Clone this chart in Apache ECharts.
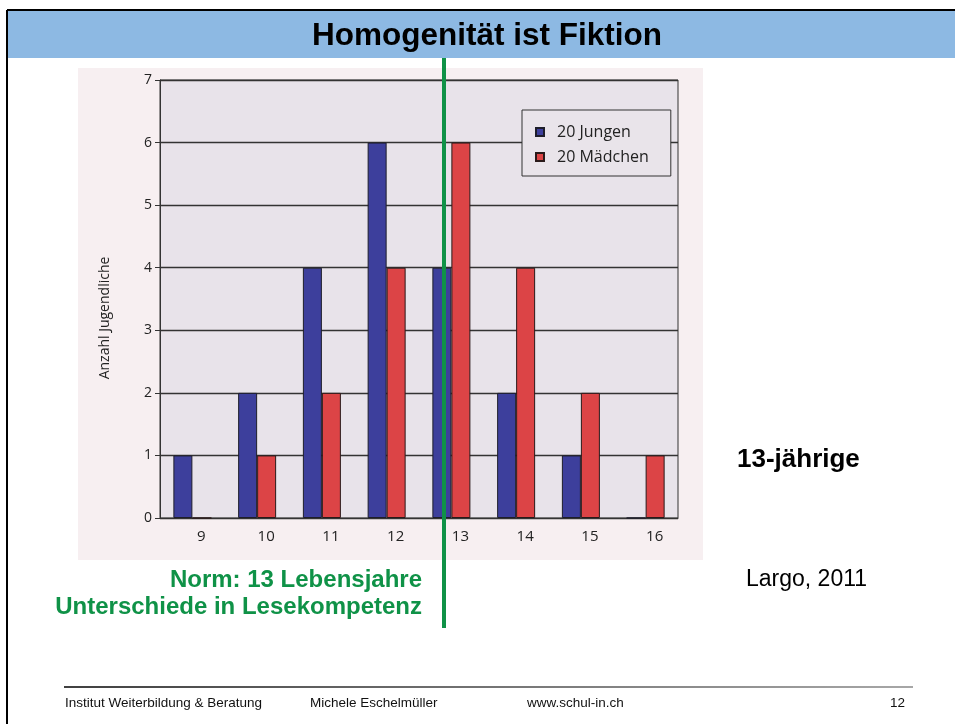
<!DOCTYPE html>
<html>
<head>
<meta charset="utf-8">
<title>Homogenität ist Fiktion</title>
<script src="https://cdn.jsdelivr.net/npm/echarts@6/dist/echarts.min.js"></script>
<style>
  html, body { margin: 0; padding: 0; background: #fff; }
  #main { width: 955px; height: 724px; }
</style>
</head>
<body>
<div id="main"></div>
<script>
// Alter (Jahre) der 13-jährigen nach Lesekompetenz
var ages = ['9', '10', '11', '12', '13', '14', '15', '16']
var jungen = [1, 2, 4, 6, 4, 2, 1, 0]
var maedchen = [0, 1, 2, 4, 6, 4, 2, 1]
var seriesNames = ['20 Jungen', '20 Mädchen']

var BLUE = '#3d3f9c'
var RED = '#dc4446'
var GREEN = '#0f9247'
var INK = '#222'
var CHART_FONT = 'Open Sans'

var chart = echarts.init(document.getElementById('main'))

chart.setOption({
  animation: false,
  backgroundColor: '#ffffff',
  textStyle: { fontFamily: CHART_FONT },
  grid: {
    left: 160,
    right: 277,
    top: 80,
    bottom: 206,
    show: true,
    backgroundColor: '#e8e3ea',
    borderColor: '#333',
    borderWidth: 1
  },
  legend: {
    orient: 'vertical',
    left: 522,
    top: 110,
    padding: [14, 22, 11, 13],
    itemWidth: 8,
    itemHeight: 8,
    itemGap: 9,
    icon: 'rect',
    backgroundColor: '#e9e4ea',
    borderColor: '#333',
    borderWidth: 1,
    textStyle: {
      fontFamily: CHART_FONT,
      fontSize: 16,
      color: INK,
      lineHeight: 16,
      padding: [0, 0, 0, 8]
    },
    data: seriesNames
  },
  xAxis: {
    type: 'category',
    data: ages,
    axisLine: { lineStyle: { color: '#333', width: 1 } },
    axisTick: { length: 4, lineStyle: { color: '#333' } },
    axisLabel: {
      color: INK,
      fontSize: 15,
      margin: 11,
      padding: [0, 0, 0, 18]
    }
  },
  yAxis: {
    type: 'value',
    min: 0,
    max: 7,
    interval: 1,
    name: 'Anzahl Jugendliche',
    nameLocation: 'middle',
    nameGap: 48,
    nameRotate: 90,
    nameTextStyle: {
      color: INK,
      fontSize: 14,
      padding: [0, 38, 0, 0]
    },
    axisLine: { show: true, lineStyle: { color: '#333', width: 1 } },
    axisTick: { show: true, length: 5, lineStyle: { color: '#333' } },
    axisLabel: { color: INK, fontSize: 14, margin: 8 },
    splitLine: { lineStyle: { color: '#333', width: 1.4 } }
  },
  series: [
    {
      name: seriesNames[0],
      type: 'bar',
      data: jungen,
      barWidth: 19,
      barGap: '0%',
      itemStyle: { color: BLUE, borderColor: '#1e1e2a', borderWidth: 1 }
    },
    {
      name: seriesNames[1],
      type: 'bar',
      data: maedchen,
      barWidth: 19,
      itemStyle: { color: RED, borderColor: '#2a1a1a', borderWidth: 1 }
    }
  ],
  graphic: [
    // gescannte Abbildung (Hintergrund)
    {
      type: 'rect',
      z: -100,
      shape: { x: 78, y: 68, width: 625, height: 492 },
      style: { fill: '#f7eff1' }
    },
    // Kopfzeile
    {
      type: 'rect',
      shape: { x: 8, y: 10, width: 947, height: 48 },
      style: { fill: '#8db9e3' }
    },
    {
      type: 'line',
      shape: { x1: 7, y1: 10, x2: 955, y2: 10 },
      style: { stroke: '#000', lineWidth: 2 }
    },
    {
      type: 'line',
      shape: { x1: 7, y1: 10, x2: 7, y2: 724 },
      style: { stroke: '#000', lineWidth: 2 }
    },
    {
      type: 'text',
      style: {
        x: 487, y: 36,
        text: 'Homogenität ist Fiktion',
        font: 'bold 31.5px "Liberation Sans", Arial, sans-serif',
        fill: '#000',
        align: 'center',
        verticalAlign: 'middle'
      }
    },
    // Norm-Linie bei 13 Jahren
    {
      type: 'line',
      z: 100,
      shape: { x1: 444, y1: 58, x2: 444, y2: 628 },
      style: { stroke: GREEN, lineWidth: 4 }
    },
    {
      type: 'text',
      style: {
        x: 422, y: 580,
        text: 'Norm: 13 Lebensjahre',
        font: 'bold 24px "Liberation Sans", Arial, sans-serif',
        fill: GREEN,
        align: 'right',
        verticalAlign: 'middle'
      }
    },
    {
      type: 'text',
      style: {
        x: 422, y: 607,
        text: 'Unterschiede in Lesekompetenz',
        font: 'bold 24px "Liberation Sans", Arial, sans-serif',
        fill: GREEN,
        align: 'right',
        verticalAlign: 'middle'
      }
    },
    {
      type: 'text',
      style: {
        x: 737, y: 460,
        text: '13-jährige',
        font: 'bold 26px "Liberation Sans", Arial, sans-serif',
        fill: '#000',
        align: 'left',
        verticalAlign: 'middle'
      }
    },
    {
      type: 'text',
      style: {
        x: 746, y: 580,
        text: 'Largo, 2011',
        font: '23px "Liberation Sans", Arial, sans-serif',
        fill: '#000',
        align: 'left',
        verticalAlign: 'middle'
      }
    },
    // Fusszeile
    {
      type: 'line',
      shape: { x1: 64, y1: 687, x2: 913, y2: 687 },
      style: {
        lineWidth: 1.5,
        stroke: new echarts.graphic.LinearGradient(0, 0, 1, 0, [
          { offset: 0, color: '#000' },
          { offset: 1, color: '#8a8a8a' }
        ])
      }
    },
    {
      type: 'text',
      style: {
        x: 65, y: 703,
        text: 'Institut Weiterbildung & Beratung',
        font: '13.5px "Liberation Sans", Arial, sans-serif',
        fill: '#111',
        verticalAlign: 'middle'
      }
    },
    {
      type: 'text',
      style: {
        x: 310, y: 703,
        text: 'Michele Eschelmüller',
        font: '13.5px "Liberation Sans", Arial, sans-serif',
        fill: '#111',
        verticalAlign: 'middle'
      }
    },
    {
      type: 'text',
      style: {
        x: 527, y: 703,
        text: 'www.schul-in.ch',
        font: '13.5px "Liberation Sans", Arial, sans-serif',
        fill: '#111',
        verticalAlign: 'middle'
      }
    },
    {
      type: 'text',
      style: {
        x: 905, y: 703,
        text: '12',
        font: '13.5px "Liberation Sans", Arial, sans-serif',
        fill: '#111',
        align: 'right',
        verticalAlign: 'middle'
      }
    }
  ]
})
</script>
</body>
</html>
